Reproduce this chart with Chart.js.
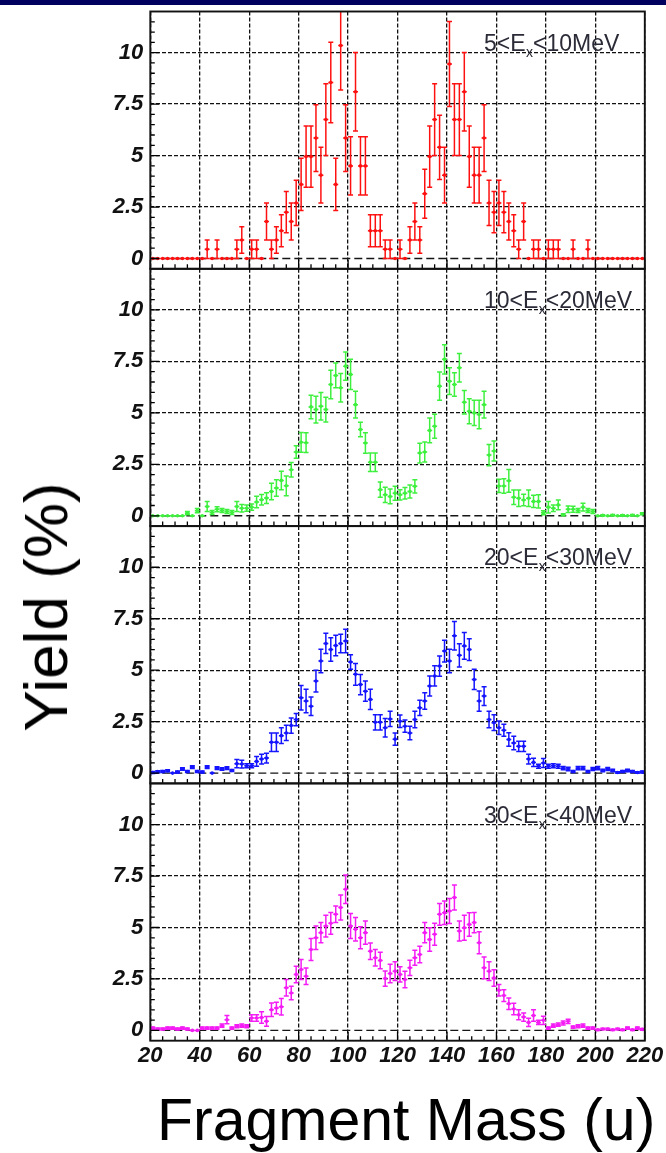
<!DOCTYPE html>
<html>
<head>
<meta charset="utf-8">
<script src="https://cdn.jsdelivr.net/npm/chart.js@4.4.1/dist/chart.umd.min.js"></script>
<style>
  html, body { margin: 0; padding: 0; background: #fff; }
  #page { position: relative; width: 666px; height: 1153px; overflow: hidden; background: #fff; }
  #band { position: absolute; left: 0; top: 0; width: 666px; height: 5px; background: #00005e; }
  canvas { position: absolute; left: 0; }
  .axis-title { position: absolute; font-family: 'Liberation Sans', Arial, sans-serif; color: #000; white-space: nowrap; }
  #ytitle { left: 45.5px; top: 607px; font-size: 62px; line-height: 62px; transform: translate(-50%, -50%) rotate(-90deg); }
  #xtitle { left: 157px; top: 1091px; font-size: 59px; line-height: 59px; }
</style>
</head>
<body>
<div id="page">
  <div id="band"></div>
  <canvas id="p0"></canvas>
  <canvas id="p1"></canvas>
  <canvas id="p2"></canvas>
  <canvas id="p3"></canvas>
  <div id="ytitle" class="axis-title">Yield (%)</div>
  <div id="xtitle" class="axis-title">Fragment Mass (u)</div>
</div>
<script>
// Fragment mass bin centres (2 u wide bins)
const massBins = [
  21, 23, 25, 27, 29, 31, 33, 35, 37, 39,
  41, 43, 45, 47, 49, 51, 53, 55, 57, 59,
  61, 63, 65, 67, 69, 71, 73, 75, 77, 79,
  81, 83, 85, 87, 89, 91, 93, 95, 97, 99,
  101, 103, 105, 107, 109, 111, 113, 115, 117, 119,
  121, 123, 125, 127, 129, 131, 133, 135, 137, 139,
  141, 143, 145, 147, 149, 151, 153, 155, 157, 159,
  161, 163, 165, 167, 169, 171, 173, 175, 177, 179,
  181, 183, 185, 187, 189, 191, 193, 195, 197, 199,
  201, 203, 205, 207, 209, 211, 213, 215, 217, 219
];

// 5 < Ex < 10 MeV
const yield5to10 = [
  0, 0, 0, 0, 0, 0, 0, 0, 0, 0,
  0, 0.45, 0, 0.45, 0, 0, 0, 0.45, 0.9, 0,
  0.45, 0.45, 0, 1.8, 0.45, 0.9, 1.35, 2.25, 1.8, 2.7,
  3.6, 4.95, 4.95, 5.85, 4.05, 6.75, 8.55, 3.6, 10.35, 5.85,
  4.5, 8.1, 4.5, 4.5, 1.35, 1.35, 1.35, 0.45, 0.45, 0,
  0.45, 0, 0.9, 1.8, 0.9, 3.15, 4.95, 6.75, 5.4, 4.05,
  9.45, 6.75, 6.75, 8.1, 4.95, 4.05, 4.05, 5.85, 2.7, 2.25,
  2.7, 2.25, 1.8, 1.35, 0.45, 1.8, 0, 0.45, 0.45, 0,
  0.45, 0.45, 0.45, 0, 0, 0.45, 0, 0, 0.45, 0,
  0, 0, 0, 0, 0, 0, 0, 0, 0, 0
];
const err5to10 = [
  0, 0, 0, 0, 0, 0, 0, 0, 0, 0,
  0, 0.45, 0, 0.45, 0, 0, 0, 0.45, 0.64, 0,
  0.45, 0.45, 0, 0.9, 0.45, 0.64, 0.78, 1.0, 0.9, 1.1,
  1.27, 1.49, 1.49, 1.62, 1.35, 1.74, 1.96, 1.27, 2.16, 1.62,
  1.42, 1.91, 1.42, 1.42, 0.78, 0.78, 0.78, 0.45, 0.45, 0,
  0.45, 0, 0.64, 0.9, 0.64, 1.19, 1.49, 1.74, 1.56, 1.35,
  2.06, 1.74, 1.74, 1.91, 1.49, 1.35, 1.35, 1.62, 1.1, 1.0,
  1.1, 1.0, 0.9, 0.78, 0.45, 0.9, 0, 0.45, 0.45, 0,
  0.45, 0.45, 0.45, 0, 0, 0.45, 0, 0, 0.45, 0,
  0, 0, 0, 0, 0, 0, 0, 0, 0, 0
];

// 10 < Ex < 20 MeV
const yield10to20 = [
  0, 0, 0, 0, 0, 0, 0, 0.13, 0, 0.25,
  0, 0.45, 0.16, 0.32, 0.26, 0.21, 0.16, 0.45, 0.37, 0.37,
  0.42, 0.67, 0.78, 0.86, 1.18, 1.35, 1.72, 1.46, 2.24, 3.1,
  3.57, 3.55, 5.29, 5.16, 5.32, 5.16, 6.38, 6.82, 6.22, 7.27,
  6.87, 5.4, 4.19, 3.54, 2.6, 2.6, 1.27, 1.02, 0.94, 1.1,
  1.02, 1.1, 1.18, 1.43, 3.05, 3.1, 4.15, 4.35, 6.3, 7.6,
  6.54, 6.38, 7.19, 5.52, 5.08, 5.0, 4.92, 5.4, 2.95, 3.15,
  1.45, 1.45, 1.7, 0.9, 0.85, 0.77, 0.85, 0.7, 0.7, 0.15,
  0.42, 0.37, 0.53, 0.05, 0.32, 0.32, 0.26, 0.42, 0.26, 0.21,
  0, 0.02, 0, 0.03, 0, 0.02, 0, 0.03, 0, 0.1
];
const err10to20 = [
  0, 0, 0, 0, 0, 0, 0, 0.08, 0, 0.1,
  0, 0.24, 0.1, 0.12, 0.1, 0.1, 0.1, 0.24, 0.18, 0.15,
  0.15, 0.28, 0.25, 0.26, 0.4, 0.4, 0.45, 0.48, 0.35, 0.3,
  0.48, 0.48, 0.57, 0.65, 0.67, 0.6, 0.69, 0.6, 0.69, 0.69,
  0.73, 0.65, 0.35, 0.5, 0.45, 0.45, 0.37, 0.37, 0.36, 0.34,
  0.25, 0.28, 0.32, 0.32, 0.48, 0.48, 0.6, 0.58, 0.69, 0.71,
  0.65, 0.57, 0.69, 0.57, 0.61, 0.61, 0.69, 0.65, 0.52, 0.49,
  0.32, 0.35, 0.55, 0.35, 0.4, 0.28, 0.4, 0.3, 0.32, 0.1,
  0.28, 0.16, 0.24, 0.05, 0.16, 0.15, 0.1, 0.19, 0.1, 0.1,
  0, 0.03, 0, 0.03, 0, 0.03, 0, 0.03, 0, 0.05
];

// 20 < Ex < 30 MeV
const yield20to30 = [
  0.03, 0.07, 0.08, 0.11, 0, 0.05, 0.2, 0.08, 0.29, 0.08,
  0.05, 0.29, 0, 0.24, 0.2, 0.24, 0.13, 0.46, 0.44, 0.36,
  0.36, 0.57, 0.68, 0.73, 1.5, 1.5, 1.82, 1.95, 2.31, 2.6,
  3.66, 3.5, 3.25, 4.47, 5.45, 6.3, 6.0, 6.2, 6.3, 6.42,
  5.4, 4.8, 4.3, 3.98, 3.58, 2.47, 2.47, 2.2, 2.63, 1.65,
  2.52, 2.28, 1.95, 2.6, 3.17, 3.5, 4.23, 4.72, 5.2, 5.93,
  5.45, 6.67, 5.72, 6.18, 6.0, 4.55, 3.5, 3.74, 2.6, 2.45,
  2.2, 2.08, 1.63, 1.46, 1.3, 1.3, 0.68, 0.52, 0.33, 0.49,
  0.33, 0.36, 0.33, 0.24, 0.2, 0.08, 0.24, 0.24, 0.08, 0.2,
  0.24, 0.13, 0.2, 0.13, 0.03, 0.08, 0.13, 0.08, 0.03, 0.05
];
const err20to30 = [
  0.05, 0.05, 0.05, 0.05, 0, 0.05, 0.06, 0.05, 0.07, 0.05,
  0.05, 0.07, 0, 0.07, 0.06, 0.07, 0.05, 0.2, 0.19, 0.1,
  0.1, 0.24, 0.24, 0.24, 0.45, 0.45, 0.38, 0.37, 0.37, 0.3,
  0.6, 0.57, 0.45, 0.53, 0.57, 0.49, 0.57, 0.5, 0.45, 0.57,
  0.35, 0.53, 0.49, 0.49, 0.49, 0.37, 0.37, 0.45, 0.37, 0.3,
  0.3, 0.3, 0.33, 0.4, 0.37, 0.4, 0.49, 0.49, 0.49, 0.53,
  0.57, 0.69, 0.57, 0.65, 0.53, 0.49, 0.49, 0.45, 0.4, 0.38,
  0.33, 0.29, 0.33, 0.33, 0.25, 0.25, 0.24, 0.2, 0.1, 0.22,
  0.1, 0.1, 0.1, 0.08, 0.08, 0.05, 0.08, 0.08, 0.05, 0.07,
  0.08, 0.06, 0.07, 0.06, 0.04, 0.05, 0.06, 0.05, 0.04, 0.05
];

// 30 < Ex < 40 MeV
const yield30to40 = [
  0.11, 0.07, 0.07, 0.11, 0.11, 0.07, 0.11, 0.07, 0, 0,
  0.11, 0.11, 0.11, 0.11, 0.23, 0.52, 0.11, 0.2, 0.23, 0.2,
  0.6, 0.6, 0.63, 0.44, 1.0, 1.09, 1.15, 2.07, 1.82, 2.72,
  2.96, 2.63, 3.93, 4.5, 4.75, 5.07, 5.2, 5.64, 5.97, 6.86,
  5.07, 4.91, 4.5, 4.75, 3.85, 3.53, 3.4, 2.52, 2.76, 2.88,
  2.72, 2.47, 3.04, 3.53, 3.69, 4.75, 4.42, 4.67, 5.64, 5.72,
  5.8, 6.46, 4.83, 4.99, 5.15, 5.24, 4.26, 3.04, 2.88, 2.55,
  1.95, 1.69, 1.3, 1.04, 0.76, 0.65, 0.39, 0.72, 0.39, 0.49,
  0.11, 0.23, 0.28, 0.36, 0.44, 0.16, 0.2, 0.23, 0.11, 0.11,
  0.03, 0.07, 0.07, 0.03, 0.07, 0.03, 0.11, 0.03, 0.11, 0.05
];
const err30to40 = [
  0.05, 0.05, 0.05, 0.05, 0.05, 0.05, 0.05, 0.05, 0, 0,
  0.05, 0.05, 0.05, 0.05, 0.08, 0.2, 0.05, 0.07, 0.08, 0.07,
  0.16, 0.16, 0.28, 0.24, 0.33, 0.28, 0.4, 0.4, 0.33, 0.4,
  0.49, 0.4, 0.53, 0.57, 0.49, 0.53, 0.53, 0.4, 0.61, 0.69,
  0.61, 0.57, 0.53, 0.57, 0.4, 0.4, 0.4, 0.37, 0.45, 0.45,
  0.37, 0.4, 0.37, 0.37, 0.4, 0.49, 0.57, 0.53, 0.53, 0.57,
  0.61, 0.61, 0.49, 0.61, 0.57, 0.49, 0.53, 0.53, 0.45, 0.4,
  0.28, 0.28, 0.28, 0.28, 0.24, 0.2, 0.2, 0.28, 0.1, 0.2,
  0.05, 0.08, 0.08, 0.1, 0.1, 0.06, 0.07, 0.08, 0.05, 0.05,
  0.03, 0.04, 0.04, 0.03, 0.04, 0.03, 0.05, 0.03, 0.05, 0.04
];

// Axis ticks and panel captions
const xTickValues = [20, 40, 60, 80, 100, 120, 140, 160, 180, 200, 220];
const xTickLabels = ['20', '40', '60', '80', '100', '120', '140', '160', '180', '200', '220'];
const yTickValues = [0, 2.5, 5, 7.5, 10];
const yTickLabels = ['0', '2.5', '5', '7.5', '10'];
const excLow = ['5', '10', '20', '30'];
const excHigh = ['10', '20', '30', '40'];

// Layout
const CANVAS_W = 666;
const FRAME_L = 150.3, FRAME_R = 644.8;
const PANEL_TOP0 = 11.5, PANEL_H = 257.3;
const X_MIN = 20, X_MAX = 220, Y_MIN = -0.5, Y_MAX = 12;
const BIN_HALF = 1;
const CAP = 2.5;
const FONT_FAMILY = "'Liberation Sans', Arial, sans-serif";
const tickFont = { family: FONT_FAMILY, size: 22, style: 'italic', weight: 'bold' };

const panels = [
  { values: yield5to10,  errors: err5to10,  color: '#ff1010' },
  { values: yield10to20, errors: err10to20, color: '#3ef03e' },
  { values: yield20to30, errors: err20to30, color: '#1414ff' },
  { values: yield30to40, errors: err30to40, color: '#f41cf4' }
];

// Error bars, zero line, inner ticks, frame and caption
const panelDecor = {
  id: 'panelDecor',
  beforeDatasetsDraw(chart, args, opts) {
    const { ctx, chartArea: a, scales: { x, y } } = chart;
    ctx.save();
    ctx.beginPath();
    ctx.rect(a.left, a.top, a.right - a.left, a.bottom - a.top);
    ctx.clip();

    const y0 = y.getPixelForValue(0);
    ctx.strokeStyle = '#151515';
    ctx.lineWidth = 1.4;
    ctx.setLineDash([8, 4]);
    ctx.beginPath();
    ctx.moveTo(a.left, y0);
    ctx.lineTo(a.right, y0);
    ctx.stroke();
    ctx.setLineDash([]);

    ctx.strokeStyle = opts.color;
    ctx.lineWidth = 1.5;
    opts.values.forEach((v, i) => {
      const m = massBins[i];
      const px = x.getPixelForValue(m);
      const py = y.getPixelForValue(v);
      ctx.beginPath();
      ctx.moveTo(x.getPixelForValue(m - BIN_HALF), py);
      ctx.lineTo(x.getPixelForValue(m + BIN_HALF), py);
      const e = opts.errors[i];
      if (e > 0) {
        const yt = y.getPixelForValue(v + e);
        const yb = y.getPixelForValue(v - e);
        ctx.moveTo(px, yt); ctx.lineTo(px, yb);
        ctx.moveTo(px - CAP, yt); ctx.lineTo(px + CAP, yt);
        ctx.moveTo(px - CAP, yb); ctx.lineTo(px + CAP, yb);
      }
      ctx.stroke();
    });
    ctx.restore();
  },
  afterDatasetsDraw(chart, args, opts) {
    const { ctx, chartArea: a, scales: { x, y } } = chart;
    ctx.save();
    ctx.strokeStyle = '#000';
    ctx.lineWidth = 1.3;
    ctx.beginPath();
    // x ticks every 5 u, pointing into the panel
    for (let k = 0; k * 5 <= X_MAX - X_MIN; k++) {
      const px = x.getPixelForValue(X_MIN + k * 5);
      const len = k % 4 === 0 ? 9 : 4.5;
      ctx.moveTo(px, a.bottom);
      ctx.lineTo(px, a.bottom - len);
    }
    // y ticks every 0.5, pointing into the panel
    for (let k = 0; k * 0.5 < Y_MAX; k++) {
      const py = y.getPixelForValue(k * 0.5);
      const len = k % 5 === 0 ? 9 : 4.5;
      ctx.moveTo(a.left, py);
      ctx.lineTo(a.left + len, py);
    }
    ctx.stroke();

    ctx.lineWidth = 1.9;
    ctx.strokeStyle = '#111';
    ctx.strokeRect(a.left, a.top, a.right - a.left, a.bottom - a.top);

    // caption "lo<E_x<hiMeV"
    const bx = 484, by = a.top + 39.3;
    ctx.fillStyle = '#2b2b38';
    ctx.textBaseline = 'alphabetic';
    ctx.textAlign = 'left';
    ctx.font = '23px ' + FONT_FAMILY;
    const part1 = opts.low + '<E';
    ctx.fillText(part1, bx, by);
    let cx = bx + ctx.measureText(part1).width;
    ctx.font = '14px ' + FONT_FAMILY;
    ctx.fillText('x', cx + 0.5, by + 6);
    cx += ctx.measureText('x').width + 0.5;
    ctx.font = '23px ' + FONT_FAMILY;
    ctx.fillText('<' + opts.high + 'MeV', cx, by);
    ctx.restore();
  }
};

panels.forEach((p, i) => {
  const isLast = i === panels.length - 1;
  const frameTop = PANEL_TOP0 + i * PANEL_H;
  const canvas = document.getElementById('p' + i);
  const top = Math.floor(frameTop) - 24;
  const padTop = frameTop - top;
  const below = isLast ? 36 : 24;
  const height = Math.ceil(padTop + PANEL_H + below);
  const padBottom = isLast ? 0 : height - padTop - PANEL_H;
  const xAxisHeight = isLast ? height - padTop - PANEL_H : 0;
  canvas.width = CANVAS_W;
  canvas.height = height;
  canvas.style.width = CANVAS_W + 'px';
  canvas.style.height = height + 'px';
  canvas.style.top = top + 'px';

  new Chart(canvas, {
    type: 'scatter',
    data: {
      datasets: [{
        data: massBins.map((m, k) => ({ x: m, y: p.values[k] })),
        backgroundColor: p.color,
        borderColor: p.color,
        borderWidth: 0,
        pointRadius: 1.8,
        pointHoverRadius: 1.8,
        showLine: false
      }]
    },
    options: {
      responsive: false,
      maintainAspectRatio: false,
      devicePixelRatio: 1,
      animation: false,
      events: [],
      layout: { padding: { left: 0, right: CANVAS_W - FRAME_R, top: padTop, bottom: padBottom } },
      plugins: {
        legend: { display: false },
        tooltip: { enabled: false },
        panelDecor: { values: p.values, errors: p.errors, color: p.color, low: excLow[i], high: excHigh[i] }
      },
      scales: {
        x: {
          type: 'linear',
          min: X_MIN,
          max: X_MAX,
          afterBuildTicks: s => { s.ticks = xTickValues.map(v => ({ value: v })); },
          afterFit: s => { s.height = xAxisHeight; },
          ticks: {
            display: isLast,
            autoSkip: false,
            maxRotation: 0,
            padding: 2,
            color: '#111',
            font: tickFont,
            callback: (v, idx) => xTickLabels[idx]
          },
          grid: { color: '#111', lineWidth: 1.3, drawTicks: false },
          border: { display: false, dash: [4, 2] }
        },
        y: {
          type: 'linear',
          min: Y_MIN,
          max: Y_MAX,
          afterBuildTicks: s => { s.ticks = yTickValues.map(v => ({ value: v })); },
          afterFit: s => { s.width = FRAME_L; },
          ticks: {
            autoSkip: false,
            padding: 7,
            color: '#111',
            font: tickFont,
            callback: (v, idx) => yTickLabels[idx]
          },
          grid: {
            color: ctx => (ctx.tick && ctx.tick.value === 0) ? 'rgba(0,0,0,0)' : '#111',
            lineWidth: 1.3,
            drawTicks: false
          },
          border: { display: false, dash: [4, 2] }
        }
      }
    },
    plugins: [panelDecor]
  });
});
</script>
</body>
</html>
